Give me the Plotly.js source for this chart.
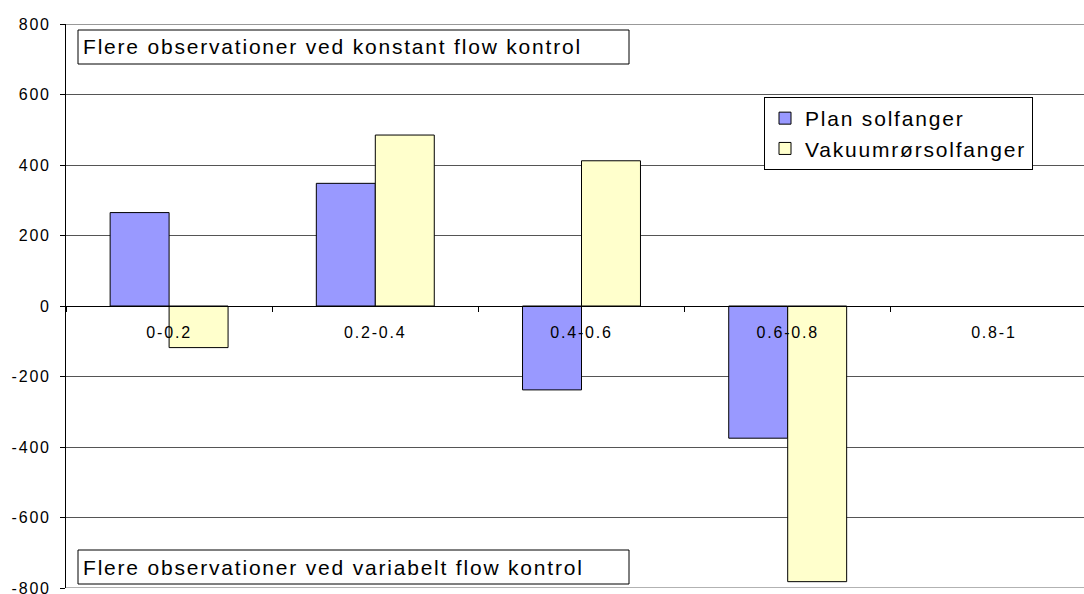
<!DOCTYPE html>
<html>
<head>
<meta charset="utf-8">
<script src="https://cdn.plot.ly/plotly-3.0.1.min.js"></script>
<style>
  html, body { margin: 0; padding: 0; background: #fff; overflow: hidden; }
  #chart { width: 1084px; height: 594px; }
  svg text { letter-spacing: 1.8px; }
</style>
</head>
<body>
<div id="chart"></div>
<script>
const categories = ['0-0.2', '0.2-0.4', '0.4-0.6', '0.6-0.8', '0.8-1'];
const planSolfanger = [265, 348, -238, -375, null];
const vakuumrorsolfanger = [-118, 485, 412, -782, null];
const seriesNames = ['Plan solfanger', 'Vakuumrørsolfanger'];
const yTicks = [-800, -600, -400, -200, 0, 200, 400, 600, 800];
const yRange = [-800, 800];
const noteTop = 'Flere observationer ved konstant flow kontrol';
const noteBottom = 'Flere observationer ved variabelt flow kontrol';

const FONT = 'Liberation Sans, Arial, sans-serif';

const traces = [
  {
    type: 'bar', name: seriesNames[0], x: categories, y: planSolfanger,
    marker: { color: '#9999FF', line: { color: '#000000', width: 1 } }
  },
  {
    type: 'bar', name: seriesNames[1], x: categories, y: vakuumrorsolfanger,
    marker: { color: '#FFFFCC', line: { color: '#000000', width: 1 } }
  }
];

// pixel -> paper helpers for the plot area (l=66, t=24, w=1018, h=564)
const px = v => (v - 66) / 1018;
const py = v => (588 - v) / 564;

const layout = {
  width: 1084, height: 594,
  margin: { l: 66, r: 0, t: 24, b: 6, pad: 0 },
  paper_bgcolor: '#ffffff', plot_bgcolor: '#ffffff',
  font: { family: FONT, size: 16, color: '#000000' },
  barmode: 'group', bargap: 0.428, bargroupgap: 0,
  showlegend: true,
  legend: {
    x: px(764), y: py(97), xanchor: 'left', yanchor: 'top',
    bgcolor: '#ffffff', bordercolor: '#000000', borderwidth: 1,
    font: { family: FONT, size: 21, color: '#000000' },
    traceorder: 'normal', itemwidth: 30
  },
  xaxis: {
    type: 'category', range: [-0.5, 4.437],
    anchor: 'free', position: 0.5,
    showline: true, linecolor: '#000000', linewidth: 1,
    ticks: 'outside', ticklen: 5, tickcolor: '#000000', tickson: 'boundaries',
    ticklabelstandoff: 12,
    showgrid: false, zeroline: false,
    tickfont: { family: FONT, size: 16, color: '#000000' },
    fixedrange: true
  },
  yaxis: {
    range: yRange, tickvals: yTicks, ticktext: yTicks.map(String),
    showline: true, linecolor: '#000000', linewidth: 1,
    ticks: 'outside', ticklen: 5, tickcolor: '#000000',
    ticklabelstandoff: 6, ticklabeloverflow: 'allow',
    showgrid: true, gridcolor: '#555555', gridwidth: 1,
    zeroline: false,
    tickfont: { family: FONT, size: 16, color: '#000000' },
    fixedrange: true
  },
  shapes: [
    { type: 'line', xref: 'paper', yref: 'y', x0: 0, x1: 1, y0: yRange[1], y1: yRange[1],
      layer: 'below', line: { color: '#777777', width: 1.5 } },
    { type: 'line', xref: 'paper', yref: 'y', x0: 0, x1: 1, y0: yRange[0], y1: yRange[0],
      layer: 'below', line: { color: '#999999', width: 1.5 } },
    { type: 'rect', xref: 'paper', yref: 'paper', layer: 'above',
      x0: px(78), x1: px(629), y0: py(64), y1: py(30),
      fillcolor: '#ffffff', line: { color: '#000000', width: 1 } },
    { type: 'rect', xref: 'paper', yref: 'paper', layer: 'above',
      x0: px(78), x1: px(629), y0: py(584), y1: py(550),
      fillcolor: '#ffffff', line: { color: '#000000', width: 1 } }
  ],
  annotations: [
    { xref: 'paper', yref: 'paper', x: px(81), y: py(47), xanchor: 'left', yanchor: 'middle',
      text: noteTop, showarrow: false, font: { family: FONT, size: 21, color: '#000000' } },
    { xref: 'paper', yref: 'paper', x: px(81), y: py(567), xanchor: 'left', yanchor: 'middle',
      text: noteBottom, showarrow: false, font: { family: FONT, size: 21, color: '#000000' } }
  ]
};

Plotly.newPlot('chart', traces, layout, { displayModeBar: false, staticPlot: true });
</script>
</body>
</html>
